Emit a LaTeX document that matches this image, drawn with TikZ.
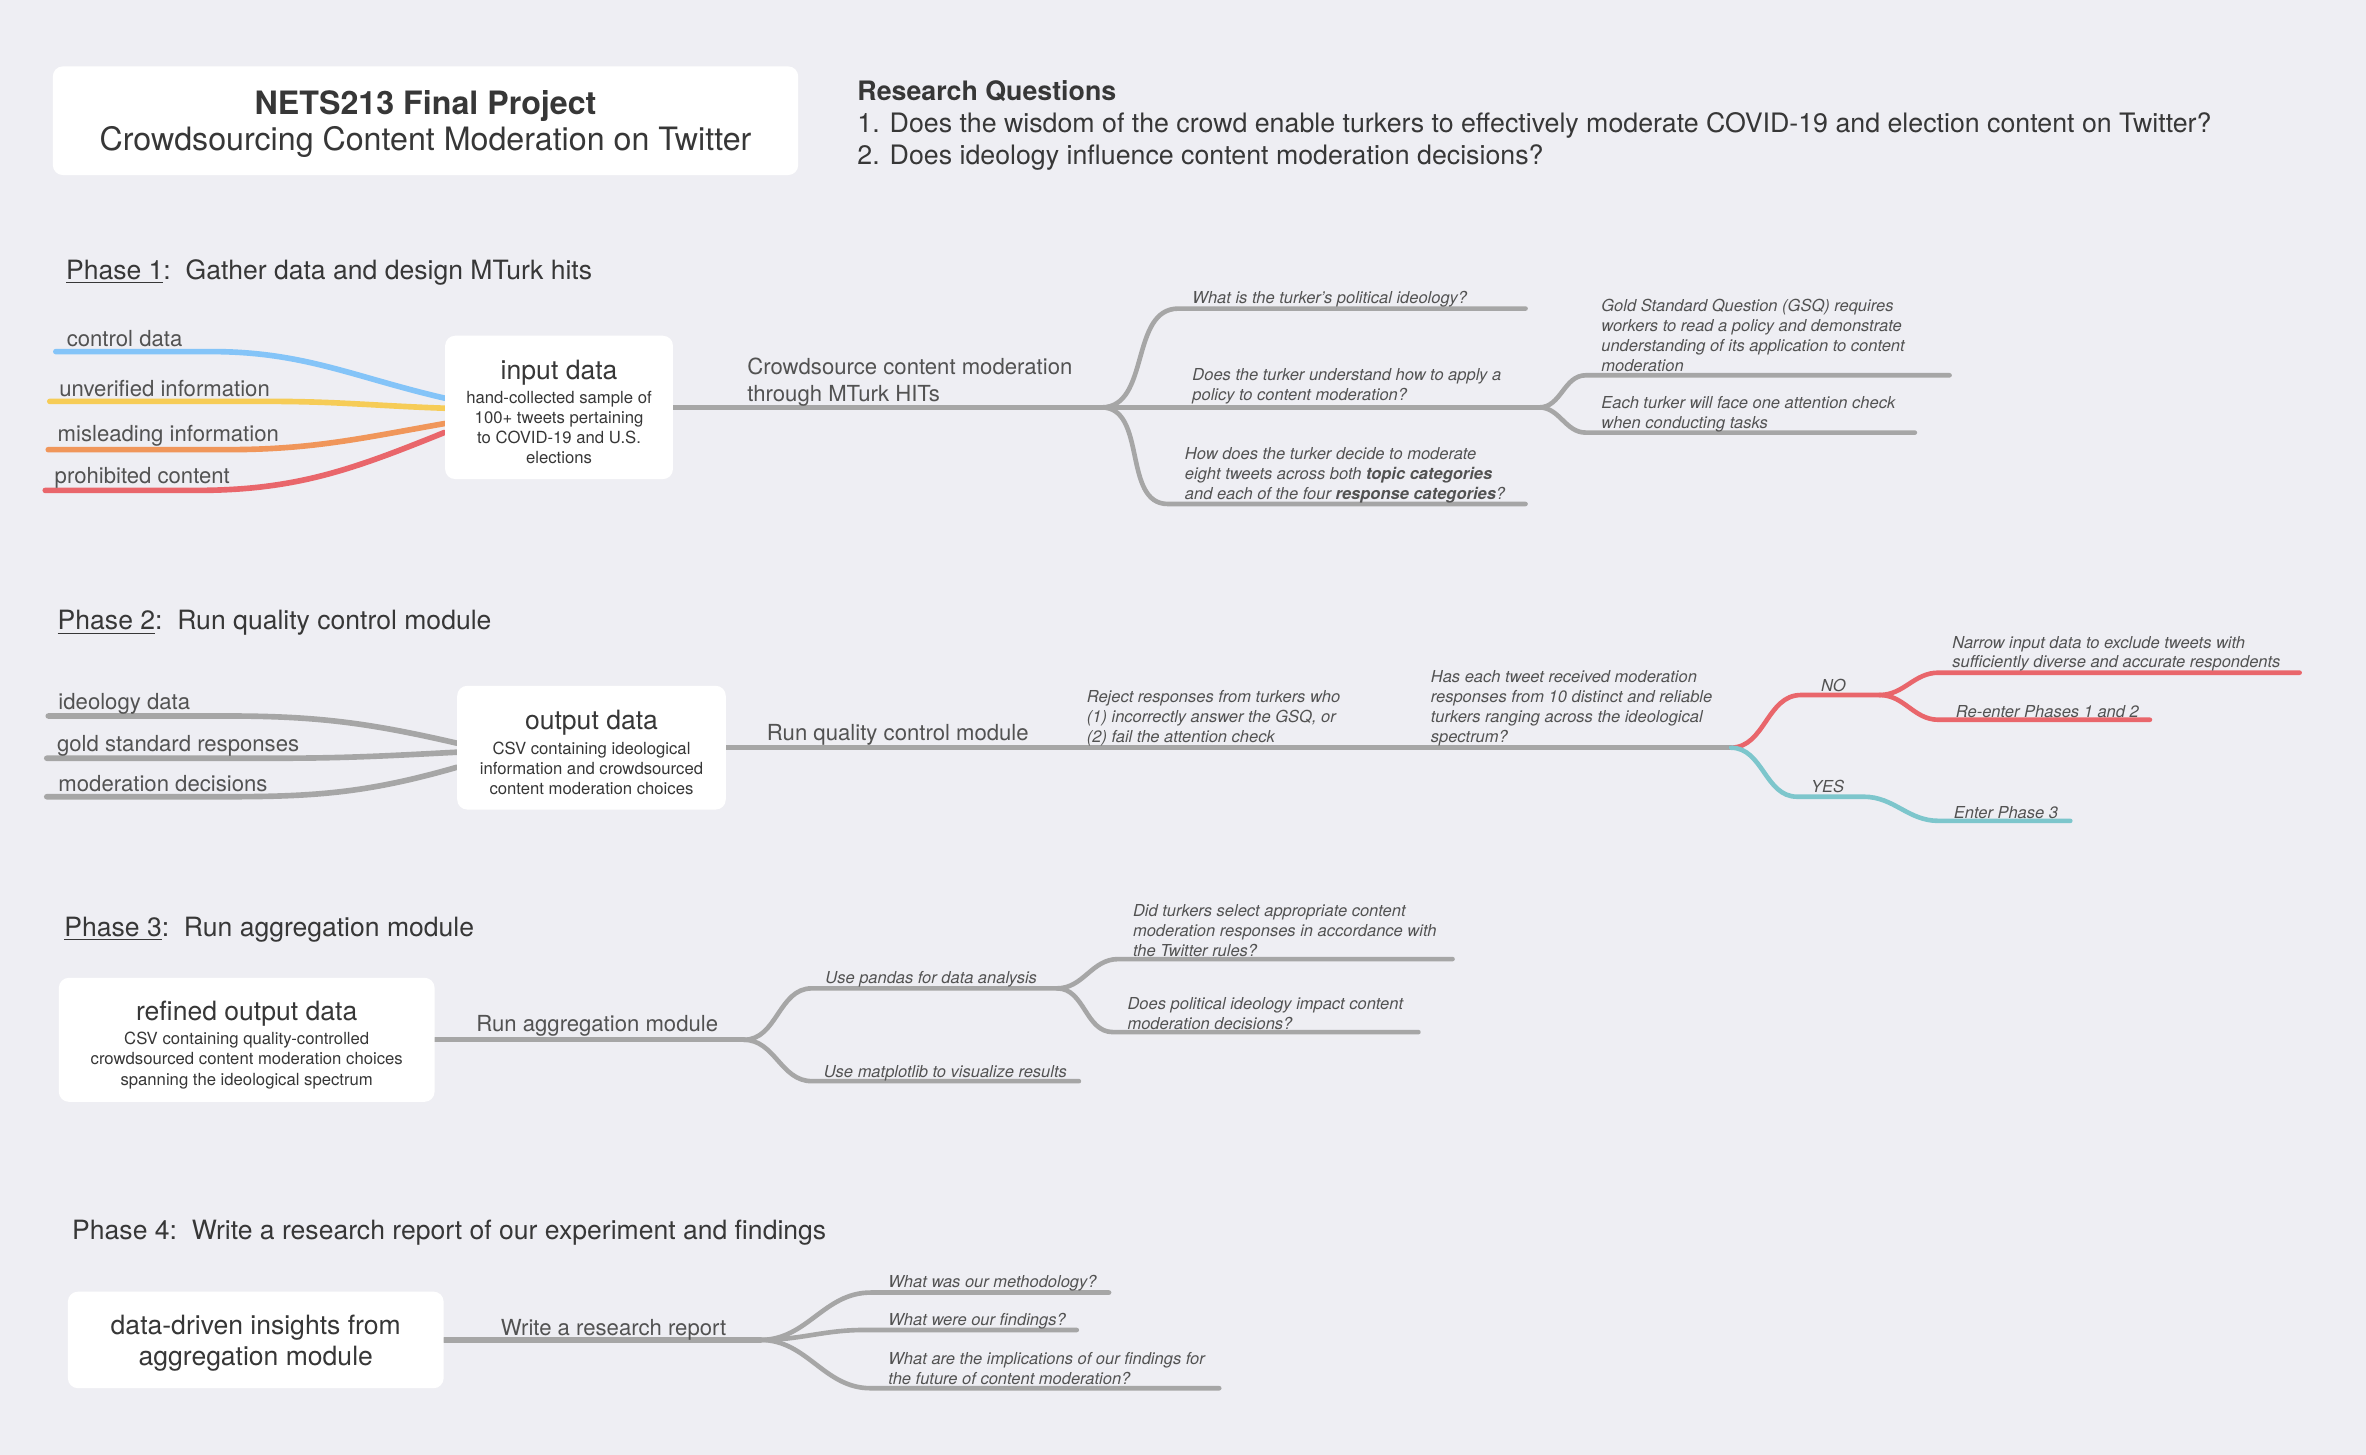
\documentclass[tikz,border=0pt]{standalone}
\usepackage{fontspec}
\setmainfont{TeX Gyre Heros}
\usetikzlibrary{fit}
\definecolor{bgc}{RGB}{238,238,243}
\definecolor{lgray}{RGB}{166,166,166}
\definecolor{ink}{RGB}{55,55,55}
\definecolor{ink2}{RGB}{82,82,82}
\definecolor{cblue}{RGB}{132,196,248}
\definecolor{cyellow}{RGB}{246,204,87}
\definecolor{corange}{RGB}{240,150,90}
\definecolor{cred}{RGB}{233,102,107}
\definecolor{cteal}{RGB}{125,198,204}
\pgfdeclarelayer{base}
\pgfdeclarelayer{links}
\pgfsetlayers{base,links,main}
\begin{document}
\begin{tikzpicture}[x=0.75pt,y=0.75pt]
\tikzset{
 card/.style={fill=white, rounded corners=5pt, inner sep=0pt, draw=none},
 txt/.style={inner sep=0pt, text=ink},
 head/.style={txt, anchor=base west, font=\fontsize{13.2}{16}\selectfont},
 lab/.style={txt, anchor=west, yshift=-1.1pt, text=ink2, font=\fontsize{11}{13.5}\selectfont},
 elab/.style={txt, anchor=west, yshift=-1.5pt, align=left, text=ink2, font=\fontsize{11}{13.5}\selectfont},
 boxtitle/.style={txt, yshift=-1.5pt, font=\fontsize{13.2}{16}\selectfont},
 boxsub/.style={txt, yshift=-0.75pt, align=center, font=\fontsize{8.3}{10}\selectfont},
 qq/.style={txt, anchor=west, yshift=-1.1pt, align=left, text=ink2, font=\fontsize{8.2}{9.9}\selectfont\itshape},
 trunk/.style={draw=lgray, line width=2.6pt, line cap=round},
 twig/.style={draw=lgray, line width=2.3pt, line cap=round},
 feed/.style={line width=2.8pt, line cap=round},
}
\begin{pgfonlayer}{base}
\fill[bgc] (0,0) rectangle (1568,-964);
\end{pgfonlayer}
\useasboundingbox (0,0) rectangle (1568,-964);

% ---------- title ----------
\node[card, fit={(35,-44) (529,-116)}] (title) {};
\node[txt, align=center, yshift=-1.5pt, font=\fontsize{16}{18}\selectfont] (titletext) at (title.center)
  {\textbf{NETS213 Final Project}\\Crowdsourcing Content Moderation on Twitter};

\node[txt, anchor=west, yshift=-1.1pt, align=left, font=\fontsize{13.3}{15.9}\selectfont] (rq) at (568,-81.7)
  {\textbf{Research Questions}\\
   1. Does the wisdom of the crowd enable turkers to effectively moderate COVID-19 and election content on Twitter?\\
   2. Does ideology influence content moderation decisions?};

% ---------- phase 1 ----------
\node[head] (p1) at (43.5,-185) {\underline{Phase 1}:\ \ Gather data and design MTurk hits};

\node[card, fit={(295,-222.5) (446,-317.5)}] (id) {};
\node[boxtitle] (idt) at (370.5,-245.3) {input data};
\node[boxsub] (ids) at (370.5,-282.2) {hand-collected sample of\\100+ tweets pertaining\\to COVID-19 and U.S.\\elections};

\node[lab] (l1) at (44,-223) {control data};
\node[lab] (l2) at (39,-256) {unverified information};
\node[lab] (l3) at (38,-287.5) {misleading information};
\node[lab] (l4) at (36,-315.5) {prohibited content};
\coordinate (l1s) at (37,-233);
\coordinate (l2s) at (33,-266);
\coordinate (l3s) at (32,-298);
\coordinate (l4s) at (30,-325);

\coordinate (f1) at (730,-270);
\coordinate (f1b) at (1020,-270);
\coordinate (q1a) at (781,-204.5);   \coordinate (q1b) at (1011,-204.5);
\coordinate (q4a) at (774,-334);   \coordinate (q4b) at (1011,-334);
\coordinate (q2a) at (1051,-248.7); \coordinate (q2b) at (1292,-248.7);
\coordinate (q3a) at (1051,-286.7); \coordinate (q3b) at (1269,-286.7);

\node[elab] (e1) at (495,-251) {Crowdsource content moderation\\through MTurk HITs};
\node[qq] (t1) at (790,-196.6) {What is the turker’s political ideology?};
\node[qq] (t2) at (790,-254.8) {Does the turker understand how to apply a\\policy to content moderation?};
\node[qq] (t3) at (785,-313.4) {How does the turker decide to moderate\\eight tweets across both \textbf{topic categories}\\and each of the four \textbf{response categories}?};
\node[qq] (t4) at (1061,-221) {Gold Standard Question (GSQ) requires\\workers to read a policy and demonstrate\\understanding of its application to content\\moderation};
\node[qq] (t5) at (1061,-272.8) {Each turker will face one attention check\\when conducting tasks};

\begin{pgfonlayer}{links}
\draw[feed, draw=cblue] (l1s) -- ++(103,0) to[out=0,in=167] ([yshift=4.6pt]id.west);
\draw[feed, draw=cyellow] (l2s) -- ++(145,0) to[out=0,in=178] ([yshift=-0.4pt]id.west);
\draw[feed, draw=corange] (l3s) -- ++(118,0) to[out=0,in=190] ([yshift=-8pt]id.west);
\draw[feed, draw=cred] (l4s) -- ++(100,0) to[out=0,in=202] ([yshift=-12.4pt]id.west);
\draw[trunk] (id.east) -- (f1) -- (f1b);
\draw[twig] (f1) to[out=0,in=180] (q1a) -- (q1b);
\draw[twig] (f1) to[out=0,in=180] (q4a) -- (q4b);
\draw[twig] (f1b) to[out=0,in=180] (q2a) -- (q2b);
\draw[twig] (f1b) to[out=0,in=180] (q3a) -- (q3b);
\end{pgfonlayer}

% ---------- phase 2 ----------
\node[head] (p2) at (38,-417.5) {\underline{Phase 2}:\ \ Run quality control module};

\node[card, fit={(303,-454.5) (481,-536.5)}] (od) {};
\node[boxtitle] (odt) at (392,-477) {output data};
\node[boxsub] (ods) at (392,-508) {CSV containing ideological\\information and crowdsourced\\content moderation choices};

\node[lab] (m1) at (38.5,-465) {ideology data};
\node[lab] (m2) at (37.6,-493) {gold standard responses};
\node[lab] (m3) at (38.5,-518) {moderation decisions};
\coordinate (m1s) at (32,-474.5);
\coordinate (m2s) at (31,-502.5);
\coordinate (m3s) at (31,-528);

\coordinate (f2) at (1147,-495.5);
\coordinate (n1) at (1193.6,-460.6); \coordinate (n2) at (1245.6,-460.6);
\coordinate (n3a) at (1284.7,-445.8); \coordinate (n3b) at (1524,-445.8);
\coordinate (n4a) at (1284.7,-477); \coordinate (n4b) at (1424.8,-477);
\coordinate (y1) at (1191,-528); \coordinate (y2) at (1235,-528);
\coordinate (y3a) at (1284.7,-544); \coordinate (y3b) at (1372,-544);

\node[elab] (e2) at (508,-485) {Run quality control module};
\node[qq] (r1) at (720,-474.4) {Reject responses from turkers who\\(1) incorrectly answer the GSQ, or\\(2) fail the attention check};
\node[qq] (r2) at (948,-467.8) {Has each tweet received moderation\\responses from 10 distinct and reliable\\turkers ranging across the ideological\\spectrum?};
\node[qq] (no) at (1206.6,-453) {NO};
\node[qq] (yes) at (1200,-520) {YES};
\node[qq] (r3) at (1293.6,-431.8) {Narrow input data to exclude tweets with\\sufficiently diverse and accurate respondents};
\node[qq] (r4) at (1296,-470) {Re-enter Phases 1 and 2};
\node[qq] (r5) at (1294.6,-537) {Enter Phase 3};

\begin{pgfonlayer}{links}
\draw[feed, draw=lgray] (m1s) -- ++(118,0) to[out=0,in=167] ([yshift=2.25pt]od.west);
\draw[feed, draw=lgray] (m2s) -- ++(150,0) to[out=0,in=183] ([yshift=-2.25pt]od.west);
\draw[feed, draw=lgray] (m3s) -- ++(120,0) to[out=0,in=196] ([yshift=-9.75pt]od.west);
\draw[trunk] (od.east) -- (f2);
\draw[twig, draw=cred] (f2) to[out=0,in=180] (n1) -- (n2) to[out=0,in=180] (n3a) -- (n3b);
\draw[twig, draw=cred] (n2) to[out=0,in=180] (n4a) -- (n4b);
\draw[twig, draw=cteal] (f2) to[out=0,in=180] (y1) -- (y2) to[out=0,in=180] (y3a) -- (y3b);
\end{pgfonlayer}

% ---------- phase 3 ----------
\node[head] (p3) at (42.4,-620.7) {\underline{Phase 3}:\ \ Run aggregation module};

\node[card, fit={(39,-648) (288,-730.2)}] (ro) {};
\node[boxtitle] (rot) at (163.5,-670) {refined output data};
\node[boxsub] (ros) at (163.5,-701.8) {CSV containing quality-controlled\\crowdsourced content moderation choices\\spanning the ideological spectrum};

\coordinate (f3) at (493,-689.1);
\coordinate (pa) at (538,-655); \coordinate (pb) at (700.5,-655);
\coordinate (pc) at (741,-635.6); \coordinate (pd) at (962.6,-635.6);
\coordinate (pe) at (737.6,-684); \coordinate (pf) at (940,-684);
\coordinate (ma) at (538,-716.5); \coordinate (mb) at (715,-716.5);

\node[elab] (e3) at (315.4,-678) {Run aggregation module};
\node[qq] (s1) at (546.7,-647.6) {Use pandas for data analysis};
\node[qq] (s2) at (750.6,-615) {Did turkers select appropriate content\\moderation responses in accordance with\\the Twitter rules?};
\node[qq] (s3) at (747,-670.4) {Does political ideology impact content\\moderation decisions?};
\node[qq] (s4) at (545.7,-709.5) {Use matplotlib to visualize results};

\begin{pgfonlayer}{links}
\draw[trunk] (ro.east) -- (f3);
\draw[twig] (f3) to[out=0,in=180] (pa) -- (pb) to[out=0,in=180] (pc) -- (pd);
\draw[twig] (pb) to[out=0,in=180] (pe) -- (pf);
\draw[twig] (f3) to[out=0,in=180] (ma) -- (mb);
\end{pgfonlayer}

% ---------- phase 4 ----------
\node[head] (p4) at (47.6,-821.7) {Phase 4:\ \ Write a research report of our experiment and findings};

\node[card, fit={(45,-856) (294,-920)}] (dd) {};
\node[txt, align=center, yshift=-1.5pt, font=\fontsize{13.2}{15.3}\selectfont] (ddt) at (dd.center) {data-driven insights from\\aggregation module};

\coordinate (f4) at (504,-888);
\coordinate (wa) at (577,-856.6); \coordinate (wb) at (735,-856.6);
\coordinate (wc) at (572.6,-881.4); \coordinate (wd) at (713.6,-881.4);
\coordinate (we) at (577,-920); \coordinate (wf) at (808,-920);

\node[elab] (e4) at (331.7,-879) {Write a research report};
\node[qq] (v1) at (588.5,-849) {What was our methodology?};
\node[qq] (v2) at (588.5,-874) {What were our findings?};
\node[qq] (v3) at (588.5,-905.5) {What are the implications of our findings for\\the future of content moderation?};

\begin{pgfonlayer}{links}
\draw[trunk] (dd.east) -- (f4);
\draw[twig] (f4) to[out=0,in=180] (wa) -- (wb);
\draw[twig] (f4) to[out=0,in=180] (wc) -- (wd);
\draw[twig] (f4) to[out=0,in=180] (we) -- (wf);
\end{pgfonlayer}
\end{tikzpicture}
\end{document}
